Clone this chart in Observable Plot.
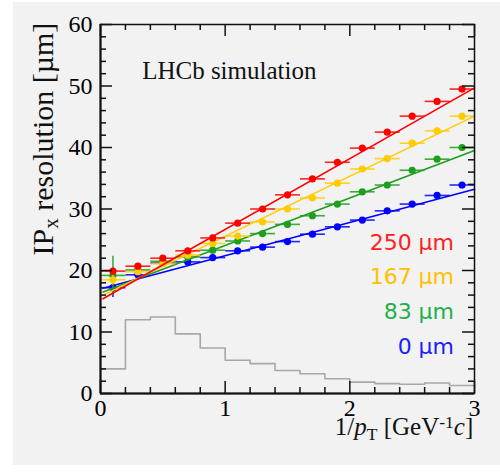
<!DOCTYPE html>
<html>
<head>
<meta charset="utf-8">
<script src="https://cdn.jsdelivr.net/npm/d3@7"></script>
<script src="https://cdn.jsdelivr.net/npm/@observablehq/plot@0.6"></script>
<style>
  html, body { margin: 0; padding: 0; background: #ffffff; }
  #wrap { position: relative; width: 500px; height: 476px; overflow: hidden; }
  #bg { position: absolute; left: 13px; top: 2px; width: 487px; height: 463px; background: #f2f2f2; }
  #chart { position: absolute; left: 0; top: 0; }
</style>
</head>
<body>
<div id="wrap"><div id="bg"></div><div id="chart"></div></div>
<script>
// ---- data ----
const xCenters = [0.1, 0.3, 0.5, 0.7, 0.9, 1.1, 1.3, 1.5, 1.7, 1.9, 2.1, 2.3, 2.5, 2.7, 2.9];
const binHalfWidth = 0.1;
const seriesNames = ["0 µm", "83 µm", "167 µm", "250 µm"];
const seriesColors = ["#0000ff", "#1e9e1e", "#ffcc00", "#ff0000"];
const labelColors = ["#2020ff", "#22b04c", "#ffc000", "#ff2020"];
const res0   = [17.2, 19.3, 21.2, 21.4, 22.1, 23.2, 23.8, 24.7, 25.9, 27.1, 28.2, 29.7, 30.8, 32.2, 33.9];
const res83  = [19.2, 20.1, 21.5, 22.2, 23.3, 24.8, 26.0, 27.5, 28.9, 30.8, 32.8, 33.9, 36.3, 38.1, 40.0];
const res167 = [18.5, 19.8, 21.1, 22.5, 24.4, 25.6, 27.9, 30.0, 31.8, 34.2, 36.5, 38.2, 40.7, 42.7, 45.1];
const res250 = [19.9, 20.7, 22.0, 23.2, 25.3, 27.7, 30.0, 32.3, 34.9, 37.6, 39.9, 42.5, 45.1, 47.5, 49.5];
const err0   = [1.5, 0.5, 0.4, 0.4, 0.3, 0.3, 0.3, 0.3, 0.3, 0.3, 0.3, 0.3, 0.3, 0.3, 0.3];
const err83  = [3.2, 0.6, 0.4, 0.4, 0.3, 0.3, 0.3, 0.3, 0.3, 0.3, 0.3, 0.3, 0.3, 0.3, 0.3];
const err167 = [0.8, 0.5, 0.4, 0.4, 0.3, 0.3, 0.3, 0.3, 0.3, 0.3, 0.3, 0.3, 0.3, 0.3, 0.3];
const err250 = [0.6, 0.4, 0.4, 0.3, 0.3, 0.3, 0.3, 0.3, 0.3, 0.3, 0.3, 0.3, 0.3, 0.3, 0.3];
// fitted straight lines: end points
const fitX    = [0.02, 3.0];
const fit0    = [17.1, 33.2];
const fit83   = [16.5, 39.5];
const fit167  = [16.0, 45.1];
const fit250  = [15.4, 49.7];
// grey 1/pT distribution (arbitrary units), bins of 0.2
const histLow    = [0, 0.2, 0.4, 0.6, 0.8, 1.0, 1.2, 1.4, 1.6, 1.8, 2.0, 2.2, 2.4, 2.6, 2.8];
const histHeight = [4.0, 12.0, 12.45, 9.7, 7.4, 5.4, 4.85, 3.75, 3.2, 2.4, 1.85, 1.6, 1.5, 1.7, 1.3];
const histHigh = 3.0;
// axis ticks
const xMajor = [0, 1, 2, 3];
const xMinor = [0.2, 0.4, 0.6, 0.8, 1.2, 1.4, 1.6, 1.8, 2.2, 2.4, 2.6, 2.8];
const yMajor = [0, 10, 20, 30, 40, 50, 60];
const yMinor = [2, 4, 6, 8, 12, 14, 16, 18, 22, 24, 26, 28, 32, 34, 36, 38, 42, 44, 46, 48, 52, 54, 56, 58];
const yTitle = "IPx resolution [µm]";
const xTitle = "1/pT [GeV-1c]";
const tagText = "LHCb simulation";

// ---- build tables ----
const allRes = [res0, res83, res167, res250];
const allErr = [err0, err83, err167, err250];
const allFit = [fit0, fit83, fit167, fit250];
const points = [];
allRes.forEach((vals, s) => vals.forEach((v, i) => points.push({s, x: xCenters[i], y: v, e: allErr[s][i]})));
const fits = [];
allFit.forEach((vals, s) => vals.forEach((v, i) => fits.push({s, x: fitX[i], y: v})));
const hist = histLow.map((x, i) => ({x, y: histHeight[i]}));
hist.push({x: histHigh, y: histHeight[histHeight.length - 1]});

const W = 500, H = 476, mL = 100, mR = 26, mT = 24, mB = 83;
const pw = W - mL - mR, ph = H - mT - mB;
const majL = 12, minL = 6;

const seriesMarks = [];
for (let s = 0; s < 4; s++) {
  const pts = points.filter(d => d.s === s);
  const col = seriesColors[s];
  seriesMarks.push(
    Plot.line(fits.filter(d => d.s === s), {x: "x", y: "y", stroke: col, strokeWidth: 1.6}),
    Plot.link(pts, {x1: d => d.x - binHalfWidth, x2: d => d.x + binHalfWidth, y1: "y", y2: "y", stroke: col, strokeWidth: 1.6, strokeOpacity: 0.85}),
    Plot.link(pts, {x1: "x", x2: "x", y1: d => d.y - d.e, y2: d => d.y + d.e, stroke: col, strokeWidth: 1.6, strokeOpacity: 0.85}),
    Plot.dot(pts, {x: "x", y: "y", r: 3.6, fill: col, stroke: "none"})
  );
}

const serif = "Liberation Serif";
const chart = Plot.plot({
  width: W, height: H,
  marginLeft: mL, marginRight: mR, marginTop: mT, marginBottom: mB,
  x: {domain: [0, 3], axis: null},
  y: {domain: [0, 60], axis: null},
  style: {background: "transparent", overflow: "visible", color: "#000"},
  marks: [
    Plot.line(hist, {x: "x", y: "y", curve: "step-after", stroke: "#a8a8a8", strokeWidth: 1.6}),
    ...seriesMarks,
    // inward ticks on all four sides
    Plot.tickY(yMajor, {y: d => d, insetRight: pw - majL, stroke: "#111", strokeWidth: 1.5}),
    Plot.tickY(yMinor, {y: d => d, insetRight: pw - minL, stroke: "#111", strokeWidth: 1.5}),
    Plot.tickY(yMajor, {y: d => d, insetLeft: pw - majL, stroke: "#111", strokeWidth: 1.5}),
    Plot.tickY(yMinor, {y: d => d, insetLeft: pw - minL, stroke: "#111", strokeWidth: 1.5}),
    Plot.tickX(xMajor, {x: d => d, insetTop: ph - majL, stroke: "#111", strokeWidth: 1.5}),
    Plot.tickX(xMinor, {x: d => d, insetTop: ph - minL, stroke: "#111", strokeWidth: 1.5}),
    Plot.tickX(xMajor, {x: d => d, insetBottom: ph - majL, stroke: "#111", strokeWidth: 1.5}),
    Plot.tickX(xMinor, {x: d => d, insetBottom: ph - minL, stroke: "#111", strokeWidth: 1.5}),
    Plot.frame({stroke: "#111", strokeWidth: 1.5}),
    Plot.ruleX([0], {stroke: "#111", strokeWidth: 2}),
    Plot.ruleY([0], {stroke: "#111", strokeWidth: 2}),
    Plot.axisY({ticks: yMajor, tickSize: 0, tickPadding: 8, fontSize: 24, fontFamily: serif, tickFormat: d => String(d), label: null}),
    Plot.axisX({ticks: xMajor, tickSize: 0, tickPadding: 5, fontSize: 24, fontFamily: serif, tickFormat: d => String(d), label: null}),
    Plot.text([tagText], {x: 0.334, y: 52.5, text: d => d, textAnchor: "start", fontSize: 25, fontFamily: serif, fill: "#111"}),
    Plot.text(seriesNames, {x: 2.836, y: [7.5, 13.2, 18.9, 24.45], text: d => d, textAnchor: "end", fontSize: 22, fontFamily: "DejaVu Sans", fill: (d, i) => labelColors[i]}),
    Plot.text([yTitle], {x: -0.46, y: 60.3, text: d => d, rotate: -90, textAnchor: "end", fontSize: 30, fontFamily: serif, fill: "#111"}),
    Plot.text([xTitle], {x: 2.99, y: -5.5, text: d => d, textAnchor: "end", fontSize: 25, fontFamily: serif, fill: "#111"})
  ]
});
document.getElementById("chart").appendChild(chart);

// rich formatting (sub/superscripts, italics) of the two axis titles
d3.select(chart).selectAll("text").each(function() {
  const t = this.textContent;
  const sel = d3.select(this);
  if (t === yTitle) {
    sel.text(null);
    sel.append("tspan").text("IP");
    sel.append("tspan").attr("baseline-shift", "-25%").attr("font-size", "70%").text("x");
    sel.append("tspan").text(" resolution [µm]");
  } else if (t === xTitle) {
    sel.text(null);
    sel.append("tspan").text("1/");
    sel.append("tspan").attr("font-style", "italic").text("p");
    sel.append("tspan").attr("baseline-shift", "-30%").attr("font-size", "70%").text("T");
    sel.append("tspan").text(" [GeV");
    sel.append("tspan").attr("baseline-shift", "40%").attr("font-size", "70%").text("-1");
    sel.append("tspan").attr("font-style", "italic").text("c");
    sel.append("tspan").text("]");
  }
});
</script>
</body>
</html>
